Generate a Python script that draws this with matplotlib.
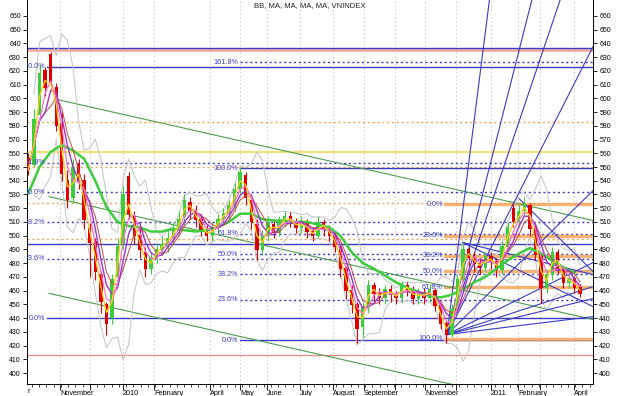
import numpy as np
import pandas as pd
import matplotlib
matplotlib.use("Agg")
from matplotlib import pyplot as plt
from matplotlib import transforms

plt.rcParams['font.family'] = ['Liberation Sans', 'DejaVu Sans']

# VNINDEX, one candle per 4 sessions; x axis counts sessions from the left edge
session_step = 4
first_session = 1
opens = [556, 552, 588, 620, 632, 608, 582, 540, 528, 552,
         540, 505, 496, 472, 450, 440, 470, 494, 543, 514,
         500, 488, 476, 484, 490, 492, 498, 504, 514, 524,
         518, 512, 504, 500, 506, 512, 516, 522, 534, 544,
         526, 508, 490, 500, 508, 502, 510, 514, 510, 506,
         510, 503, 500, 510, 505, 500, 492, 476, 460, 450,
         434, 448, 464, 458, 455, 461, 457, 455, 464, 461,
         454, 459, 455, 460, 449, 436, 428, 446, 468, 490,
         484, 480, 477, 485, 481, 475, 492, 520, 510, 518,
         522, 505, 486, 462, 472, 488, 476, 466, 469, 462]
closes = [548, 585, 618, 608, 612, 580, 545, 526, 550, 540,
          512, 495, 474, 452, 436, 468, 492, 530, 516, 500,
          490, 476, 484, 490, 494, 498, 504, 512, 526, 518,
          512, 504, 500, 506, 512, 516, 522, 534, 546, 528,
          510, 490, 500, 510, 502, 510, 514, 510, 506, 510,
          503, 500, 510, 505, 500, 492, 476, 460, 450, 432,
          448, 464, 458, 455, 461, 457, 455, 464, 461, 454,
          459, 455, 461, 449, 436, 428, 446, 468, 490, 484,
          480, 477, 485, 481, 475, 492, 506, 510, 518, 523,
          505, 486, 462, 472, 488, 476, 466, 469, 462, 458]
highs = [560, 592, 624, 623, 634, 611, 590, 548, 556, 556,
         545, 509, 498, 474, 452, 472, 498, 536, 546, 518,
         506, 492, 488, 495, 500, 504, 510, 518, 530, 528,
         522, 516, 508, 510, 516, 520, 526, 538, 550, 546,
         530, 512, 504, 514, 512, 514, 518, 517, 513, 514,
         512, 506, 514, 512, 508, 503, 494, 478, 464, 452,
         452, 468, 466, 462, 464, 464, 460, 467, 466, 463,
         462, 462, 465, 462, 450, 438, 450, 472, 495, 492,
         488, 484, 489, 488, 484, 496, 510, 524, 522, 528,
         524, 508, 488, 476, 492, 490, 478, 472, 471, 465]
lows = [544, 550, 585, 602, 606, 576, 540, 520, 524, 534,
        505, 470, 468, 444, 428, 436, 466, 490, 512, 494,
        484, 470, 472, 480, 486, 488, 494, 500, 508, 512,
        506, 500, 496, 496, 502, 508, 512, 518, 530, 522,
        505, 482, 486, 496, 498, 500, 506, 506, 502, 502,
        498, 496, 498, 500, 496, 488, 470, 454, 444, 422,
        426, 444, 452, 450, 450, 452, 450, 452, 456, 450,
        450, 450, 452, 445, 432, 422, 426, 444, 466, 478,
        474, 472, 474, 476, 470, 472, 490, 506, 506, 514,
        500, 482, 451, 458, 468, 472, 462, 462, 458, 455]

# slow moving average (green), read every 8 sessions
slow_ma_step = 8
slow_ma = [531, 550, 561, 566, 562, 556, 540, 521, 510, 507,
           506, 503, 503, 505, 504, 503, 504, 506, 510, 516,
           516, 512, 511, 511, 510, 510, 508, 506, 500, 488,
           480, 476, 471, 466, 462, 459, 456, 455, 457, 461,
           466, 470, 476, 482, 487, 491, 487, 482, 477, 473]

# month starts (sessions) and the labels shown under them
month_sessions = [23.7, 45.2, 68.9, 91.2, 131.4, 152.9, 172.3, 196.0, 219.7,
                  241.9, 264.2, 285.7, 308.0, 333.1, 352.5, 368.3, 392.7]
month_labels = ['November', '', '2010', 'February', 'April', 'May', 'June',
                'July', 'August', 'September', '', 'November', '', '2011',
                'February', '', 'April']

# fibonacci retracements: (value at 0%, value at 100%)
fib_pcts = [0.0, 23.6, 38.2, 50.0, 61.8, 100.0]
fib_left = (440, 623)
fib_mid = (424, 549)
fib_right = (523, 425)
fib_outer = (635, 413)

# other horizontal levels
blue_levels = [637, 494]
yellow_level = 561

# falling trend channel: start session, start value, slope per session
channel_starts = [(22.3, 599), (15.8, 528.4), (15.8, 458)]
channel_slope = -0.229

# gann fan from the November 2010 low
fan_origin = (301.5, 428)
fan_ratios = [8, 4, 3, 2, 1, 1 / 2, 1 / 3, 1 / 4, 1 / 8]

# falling fan lines from the December 2010 and February 2011 highs
down_fans = [((313.0, 495), [1 / 2, 1 / 4]),
             ((353.2, 527), [1])]

BLUE = '#3a3ac4'
ORANGE = '#f5a55a'

x = first_session + session_step * np.arange(len(closes))
o = np.array(opens, float)
c = np.array(closes, float)
h = np.array(highs, float)
l = np.array(lows, float)

fig = plt.figure(figsize=(6.2, 3.96), dpi=100)
ax = fig.add_axes([27 / 620, 12 / 396, 566 / 620, 384 / 396])
xmax = 406.3
ax.set_xlim(0, xmax)
ax.set_ylim(392, 671.6)

# grid
for m in month_sessions:
    ax.axvline(m, color='#c8c8c8', lw=0.7, ls=(0, (1.5, 2.5)), zorder=0.5)


def fib_values(pair, pcts):
    a, b = pair
    return [a + (b - a) * p / 100.0 for p in pcts]


# outer orange set, no visible labels
vals = fib_values(fib_outer, fib_pcts)
for p, v in zip(fib_pcts, vals):
    if p == 0.0:
        ax.axhline(v, color='#f4a49a', lw=1.8, zorder=1)
    elif p == 100.0:
        ax.axhline(v, color='#f08a80', lw=0.9, zorder=1)
    else:
        ax.axhline(v, color=ORANGE, lw=1.0, ls=(0, (1.5, 2)), zorder=1)

for v in blue_levels:
    ax.axhline(v, color=BLUE, lw=1.0, zorder=1.2)
ax.axhline(yellow_level, color='#f3e07a', lw=1.6, zorder=1)


def draw_fib(pair, pcts, start, lab_end, color, solid_style, dot_style):
    vals = fib_values(pair, pcts)
    for p, v in zip(pcts, vals):
        style = solid_style if p in (0.0, 100.0) else dot_style
        ax.plot([start, xmax], [v, v], color=color, zorder=1.3, **style)
        ax.text(lab_end, v, '%.1f%%' % p, color=BLUE, fontsize=5.2,
                ha='right', va='center', clip_on=True, zorder=6)


blue_solid = dict(lw=1.0)
blue_dot = dict(lw=1.0, ls=(0, (1.5, 2)))
draw_fib(fib_left, fib_pcts, 14.0, 13.0, BLUE, blue_solid, blue_dot)
draw_fib(fib_mid, fib_pcts + [161.8], 153.0, 151.5, BLUE, blue_solid, blue_dot)
orange_thick = dict(lw=2.4, alpha=0.85)
draw_fib(fib_right, fib_pcts, 300.0, 298.5, ORANGE, orange_thick, orange_thick)

# trend channel
for s0, v0 in channel_starts:
    ax.plot([s0, xmax], [v0, v0 + channel_slope * (xmax - s0)],
            color='#4c9c4c', lw=0.8, zorder=1.5)

# gann fans
fx, fy = fan_origin
for r in fan_ratios:
    ax.plot([fx, xmax + 5], [fy, fy + r * (xmax + 5 - fx)],
            color=BLUE, lw=0.8, zorder=2.5)
for (dx, dy), ratios in down_fans:
    for r in ratios:
        ax.plot([dx, xmax + 5], [dy, dy - r * (xmax + 5 - dx)],
                color=BLUE, lw=0.8, zorder=2.5)

# bollinger bands
s = pd.Series(c)
mid = s.rolling(5, min_periods=2).mean()
sd = s.rolling(5, min_periods=2).std(ddof=0)
ax.plot(x, mid + 2 * sd, color='#c8c8c8', lw=0.8, zorder=2)
ax.plot(x, mid - 2 * sd, color='#c8c8c8', lw=0.8, zorder=2)

# candles
up = c >= o
colors = np.where(up, '#3ccc3c', '#e00000')
ax.vlines(x, l, h, colors=colors, lw=0.8, zorder=3)
ax.bar(x, np.abs(c - o) + 0.6, bottom=np.minimum(o, c) - 0.3, width=2.4,
       color=colors, zorder=3, linewidth=0)

slow_x = first_session + slow_ma_step * np.arange(len(slow_ma))
ax.plot(slow_x, slow_ma, color='#3ccc3c', lw=1.8, zorder=4)
ax.plot(x, s.rolling(5, min_periods=1).mean(), color='#c84848', lw=0.7, zorder=4)
ax.plot(x, s.rolling(4, min_periods=1).mean(), color='#9a35c8', lw=1.0, zorder=4)
ax.plot(x, s.rolling(3, min_periods=1).mean(), color='#ff70c8', lw=0.9, zorder=4)
ax.plot(x, s.rolling(2, min_periods=1).mean(), color='#ffd21a', lw=0.9, zorder=4)

ax.text(0.5, 0.995, 'BB, MA, MA, MA, MA, VNINDEX', transform=ax.transAxes,
        ha='center', va='top', fontsize=5.5, color='#222222')

# axes
ax.spines['top'].set_visible(False)
for sp in ('left', 'right', 'bottom'):
    ax.spines[sp].set_linewidth(0.7)
yt = np.arange(400, 661, 10)
ax.set_yticks(yt)
ax.tick_params(axis='y', which='both', left=True, right=True, labelleft=True,
               labelright=True, labelsize=5, length=3, width=0.6, pad=1.5)
ax.set_xticks(month_sessions)
ax.set_xticklabels(month_labels, ha='left')
ax.set_xticks(np.arange(3.5, xmax, 5.2), minor=True)
ax.tick_params(axis='x', which='major', labelsize=5.2, length=4, width=0.6, pad=0)
ax.tick_params(axis='x', which='minor', length=2, width=0.5)
trans = transforms.blended_transform_factory(ax.transData, ax.transAxes)
ax.text(0.3, -0.011, 'r', transform=trans, fontsize=5.2, va='top', ha='left')

fig.savefig('out.png', dpi=100)
